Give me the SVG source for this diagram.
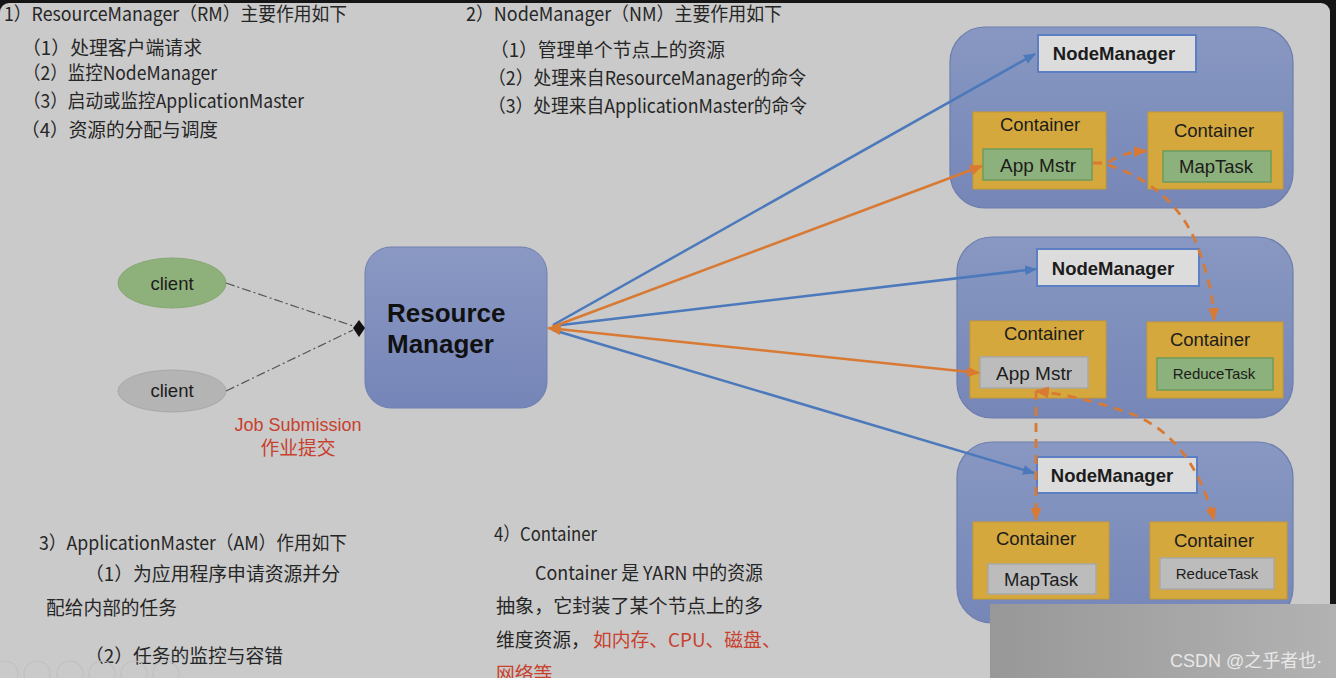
<svg xmlns="http://www.w3.org/2000/svg" width="1336" height="678" viewBox="0 0 1336 678">
<defs>
<style>
.t{font-family:"Noto Sans CJK SC","Noto Sans",sans-serif;font-size:18.8px;fill:#262626}
.red{fill:#c8402e}
.lbl{font-family:"Liberation Sans",Arial,sans-serif;fill:#1c1c1c;text-anchor:middle}
.nmb{fill:url(#nmg);stroke:#6d7eae;stroke-width:1.2}
.nml{fill:#dcdcdc;stroke:#5b7fc2;stroke-width:2}
.cont{fill:#d4a83c;stroke:#c99a2e;stroke-width:1}
.grn{fill:#8db17c;stroke:#6e9c5d;stroke-width:1.5}
.gry{fill:#bcbcbc;stroke:#a8a8a8;stroke-width:1.5}
.blue{stroke:#4b79bb;stroke-width:2.5;fill:none}
.org{stroke:#d87a34;stroke-width:2.5;fill:none}
.dsh{stroke:#d87a34;stroke-width:2.8;fill:none;stroke-dasharray:9 7}
.dd{stroke:#555;stroke-width:1.2;fill:none;stroke-dasharray:9 3 2 3}
</style>
<linearGradient id="nmg" x1="0" y1="0" x2="0" y2="1"><stop offset="0" stop-color="#8898c2"/><stop offset="1" stop-color="#7686b7"/></linearGradient>
<linearGradient id="rmg" x1="0" y1="0" x2="0" y2="1"><stop offset="0" stop-color="#8a98c3"/><stop offset="1" stop-color="#7585b7"/></linearGradient>
<linearGradient id="wmg" x1="0" y1="0" x2="1" y2="0"><stop offset="0" stop-color="#989898"/><stop offset="1" stop-color="#b2b2b2"/></linearGradient>
<marker id="ab" viewBox="0 0 12 10" refX="11" refY="5" markerWidth="12" markerHeight="10" markerUnits="userSpaceOnUse" orient="auto"><path d="M0,0 L12,5 L0,10 Z" fill="#4b79bb"/></marker>
<marker id="ao" viewBox="0 0 12 10" refX="11" refY="5" markerWidth="13" markerHeight="11" markerUnits="userSpaceOnUse" orient="auto"><path d="M0,0 L12,5 L0,10 Z" fill="#d87a34"/></marker>
<marker id="aos" viewBox="0 0 12 10" refX="1" refY="5" markerWidth="14" markerHeight="12" markerUnits="userSpaceOnUse" orient="auto"><path d="M12,0 L0,5 L12,10 Z" fill="#d87a34"/></marker>
</defs>
<rect x="0" y="0" width="1336" height="678" fill="#151515"/>
<rect x="0" y="3" width="1330" height="690" rx="9" fill="#cacaca"/>

<g id="text-rm">
<text class="t" x="4" y="21" textLength="343" lengthAdjust="spacingAndGlyphs">1）ResourceManager（RM）主要作用如下</text>
<text class="t" x="22" y="55" textLength="180" lengthAdjust="spacingAndGlyphs">（1）处理客户端请求</text>
<text class="t" x="23" y="80" textLength="194" lengthAdjust="spacingAndGlyphs">（2）监控NodeManager</text>
<text class="t" x="23" y="108" textLength="281" lengthAdjust="spacingAndGlyphs">（3）启动或监控ApplicationMaster</text>
<text class="t" x="21" y="137" textLength="197" lengthAdjust="spacingAndGlyphs">（4）资源的分配与调度</text>
</g>
<g id="text-nm">
<text class="t" x="466" y="21" textLength="316" lengthAdjust="spacingAndGlyphs">2）NodeManager（NM）主要作用如下</text>
<text class="t" x="490" y="57" textLength="235" lengthAdjust="spacingAndGlyphs">（1）管理单个节点上的资源</text>
<text class="t" x="488" y="85" textLength="318" lengthAdjust="spacingAndGlyphs">（2）处理来自ResourceManager的命令</text>
<text class="t" x="488" y="113" textLength="319" lengthAdjust="spacingAndGlyphs">（3）处理来自ApplicationMaster的命令</text>
</g>
<g id="text-am">
<text class="t" x="39" y="550" textLength="308" lengthAdjust="spacingAndGlyphs">3）ApplicationMaster（AM）作用如下</text>
<text class="t" x="85" y="581" textLength="255" lengthAdjust="spacingAndGlyphs">（1）为应用程序申请资源并分</text>
<text class="t" x="46" y="615" textLength="131" lengthAdjust="spacingAndGlyphs">配给内部的任务</text>
<text class="t" x="85" y="663" textLength="198" lengthAdjust="spacingAndGlyphs">（2）任务的监控与容错</text>
</g>
<g id="text-container">
<text class="t" x="494" y="541" textLength="103" lengthAdjust="spacingAndGlyphs">4）Container</text>
<text class="t" x="535" y="580" textLength="228" lengthAdjust="spacingAndGlyphs">Container 是 YARN 中的资源</text>
<text class="t" x="496" y="613" textLength="267" lengthAdjust="spacingAndGlyphs">抽象，它封装了某个节点上的多</text>
<text class="t" x="496" y="647">维度资源，<tspan class="red" x="593">如内存、CPU、磁盘、</tspan></text>
<text class="t red" x="496" y="681">网络等</text>
</g>

<g id="client1">
<ellipse cx="172" cy="283" rx="54" ry="25" fill="#8eb07a" stroke="#86a872" stroke-width="1"/>
<text class="lbl" x="172" y="290" font-size="18.5">client</text>
</g>
<g id="client2">
<ellipse cx="172" cy="391" rx="54" ry="21" fill="#b4b4b4" stroke="#a8a8a8" stroke-width="1"/>
<text class="lbl" x="172" y="397" font-size="18.5">client</text>
</g>
<g id="job-submission">
<text class="lbl" x="298" y="431" font-size="18" style="fill:#c8402e">Job Submission</text>
<text class="t red" x="298" y="455" text-anchor="middle" font-size="18">作业提交</text>
</g>
<g id="resource-manager">
<rect x="365" y="247" width="182" height="161" rx="26" fill="url(#rmg)" stroke="#7180b0" stroke-width="1"/>
<text x="387" y="322" font-family="Liberation Sans, Arial, sans-serif" font-weight="bold" font-size="26" fill="#111">Resource</text>
<text x="387" y="353" font-family="Liberation Sans, Arial, sans-serif" font-weight="bold" font-size="26" fill="#111">Manager</text>
</g>

<g id="node-manager-1">
<rect class="nmb" x="950" y="27" width="343" height="181" rx="35"/>
<rect class="nml" x="1038" y="35" width="158" height="37"/>
<text class="lbl" x="1114" y="60" font-size="18.5" font-weight="bold">NodeManager</text>
<rect class="cont" x="973" y="112" width="133" height="77"/>
<text class="lbl" x="1040" y="131" font-size="18.5">Container</text>
<rect class="grn" x="983" y="149" width="109" height="31"/>
<text class="lbl" x="1038" y="172" font-size="19">App Mstr</text>
<rect class="cont" x="1148" y="112" width="135" height="77"/>
<text class="lbl" x="1214" y="137" font-size="18.5">Container</text>
<rect class="grn" x="1163" y="151" width="108" height="31"/>
<text class="lbl" x="1216" y="173" font-size="18.5">MapTask</text>
</g>
<g id="node-manager-2">
<rect class="nmb" x="957" y="237" width="336" height="181" rx="35"/>
<rect class="nml" x="1037" y="249" width="162" height="37"/>
<text class="lbl" x="1113" y="275" font-size="18.5" font-weight="bold">NodeManager</text>
<rect class="cont" x="970" y="321" width="136" height="77"/>
<text class="lbl" x="1044" y="340" font-size="18.5">Container</text>
<rect class="gry" x="980" y="357" width="108" height="31"/>
<text class="lbl" x="1034" y="380" font-size="19">App Mstr</text>
<rect class="cont" x="1147" y="322" width="136" height="76"/>
<text class="lbl" x="1210" y="346" font-size="18.5">Container</text>
<rect class="grn" x="1157" y="358" width="116" height="32"/>
<text class="lbl" x="1214" y="379" font-size="15">ReduceTask</text>
</g>
<g id="node-manager-3">
<rect class="nmb" x="957" y="442" width="336" height="181" rx="35"/>
<rect class="nml" x="1037" y="457" width="160" height="36"/>
<text class="lbl" x="1112" y="482" font-size="18.5" font-weight="bold">NodeManager</text>
<rect class="cont" x="973" y="522" width="136" height="77"/>
<text class="lbl" x="1036" y="545" font-size="18.5">Container</text>
<rect class="gry" x="988" y="564" width="108" height="30"/>
<text class="lbl" x="1041" y="586" font-size="18.5">MapTask</text>
<rect class="cont" x="1150" y="522" width="137" height="77"/>
<text class="lbl" x="1214" y="547" font-size="18.5">Container</text>
<rect class="gry" x="1160" y="558" width="114" height="31"/>
<text class="lbl" x="1217" y="579" font-size="15">ReduceTask</text>
</g>

<g id="connectors">
<path class="dd" d="M226,283 L353,326"/>
<path class="dd" d="M226,391 L353,330"/>
<path d="M353,328 L359,320 L365,328 L359,337 Z" fill="#111"/>
<path class="blue" d="M553,325 L1035,54" marker-end="url(#ab)"/>
<path class="blue" d="M553,326 L1036,269" marker-end="url(#ab)"/>
<path class="blue" d="M553,330 L1034,473" marker-end="url(#ab)"/>
<path class="org" d="M552,327 L982,166" marker-end="url(#ao)"/>
<path class="org" d="M548,328 L979,373" marker-start="url(#aos)" marker-end="url(#ao)"/>
<path class="dsh" d="M1093,163 L1108,163 Q1122,152 1146,151" marker-end="url(#ao)"/>
<path class="dsh" d="M1108,165 Q1170,185 1195,240 Q1213,285 1214,320" marker-end="url(#ao)"/>
<path class="dsh" d="M1036,391 L1036,520" marker-end="url(#ao)"/>
<path class="dsh" d="M1036,391 Q1075,395 1120,410 Q1190,430 1214,520" marker-start="url(#aos)" marker-end="url(#ao)"/>
</g>

<g id="toolbar" fill="none" stroke="#c0c0c0" stroke-width="1.2">
<circle cx="5" cy="674" r="13"/>
<circle cx="37" cy="674" r="13"/>
<circle cx="70" cy="674" r="13"/>
<circle cx="102" cy="674" r="13"/>
<circle cx="134" cy="674" r="13"/>
<circle cx="166" cy="674" r="13"/>
</g>

<g id="watermark">
<rect x="990" y="604" width="346" height="74" fill="url(#wmg)"/>
<text x="1170" y="667" font-family="Liberation Sans, 'Noto Sans CJK SC', sans-serif" font-size="18" fill="#e8e8e8">CSDN @之乎者也·</text>
</g>
</svg>
